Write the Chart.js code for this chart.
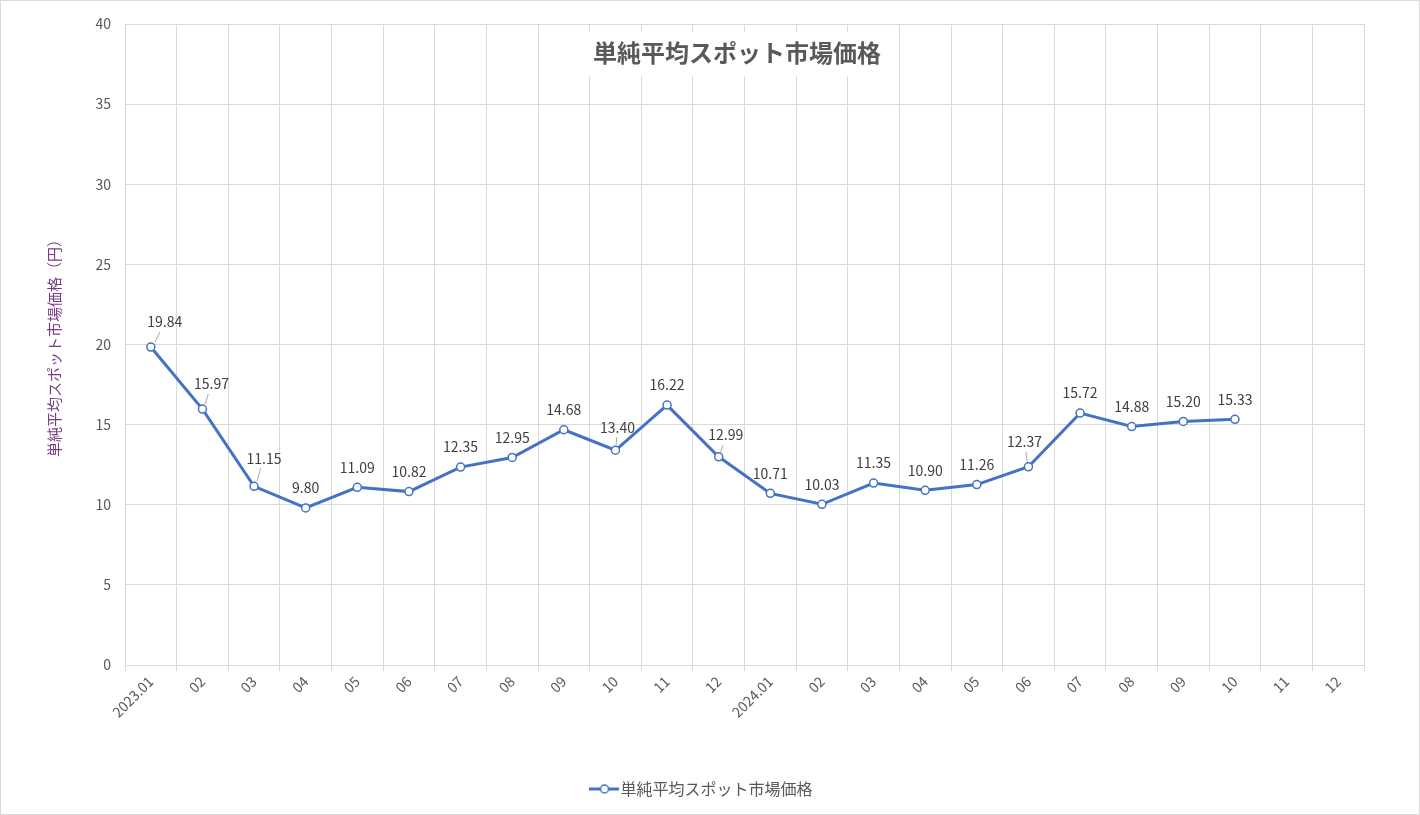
<!DOCTYPE html>
<html lang="ja">
<head>
    <meta charset="UTF-8">
    <title>単純平均スポット市場価格</title>
    <script src="https://cdn.jsdelivr.net/npm/chart.js"></script>
    <style>
        html, body { margin: 0; padding: 0; background: #fff; }
        .wrap { width: 1420px; height: 815px; position: relative; }
    </style>
</head>
<body>
    <div class="wrap">
        <canvas id="priceChart" width="1420" height="815"></canvas>
    </div>

    <script>
        const seriesName = '単純平均スポット市場価格';
        const axisTitle = '単純平均スポット市場価格（円）';
        const months = ['2023.01', '02', '03', '04', '05', '06', '07', '08', '09', '10', '11', '12',
                        '2024.01', '02', '03', '04', '05', '06', '07', '08', '09', '10', '11', '12'];
        const prices = [19.84, 15.97, 11.15, 9.80, 11.09, 10.82, 12.35, 12.95, 14.68, 13.40, 16.22, 12.99,
                        10.71, 10.03, 11.35, 10.90, 11.26, 12.37, 15.72, 14.88, 15.20, 15.33, null, null];

        // label offsets (px) from the point, [dx, dy, leaderLine]
        const labelShift = {
            0: [14, -25, true], 1: [9, -25, true], 2: [10, -28, true],
            9: [2, -23, true], 11: [7, -22, true], 17: [-4, -25, true]
        };

        const blue = '#4472C4';
        const font = "'Noto Sans CJK JP', 'Noto Sans', sans-serif";

        // legend marker: line with hollow circle
        const marker = document.createElement('canvas');
        marker.width = 30; marker.height = 12;
        const mctx = marker.getContext('2d');
        mctx.strokeStyle = blue; mctx.lineWidth = 3;
        mctx.beginPath(); mctx.moveTo(0, 6); mctx.lineTo(30, 6); mctx.stroke();
        mctx.fillStyle = '#fff'; mctx.lineWidth = 1.5;
        mctx.beginPath(); mctx.arc(15, 6, 4, 0, Math.PI * 2); mctx.fill(); mctx.stroke();

        const frameAndTitle = {
            id: 'frameAndTitle',
            afterDraw(chart) {
                const ctx = chart.ctx;
                ctx.save();
                ctx.strokeStyle = '#d9d9d9';
                ctx.lineWidth = 1;
                ctx.strokeRect(0.5, 0.5, chart.width - 1, chart.height - 1);
                ctx.fillStyle = '#fff';
                ctx.fillRect(560, 32, 335, 44);
                ctx.fillStyle = '#595959';
                ctx.font = 'bold 24px ' + font;
                ctx.textAlign = 'center';
                ctx.textBaseline = 'middle';
                ctx.fillText(seriesName, 737, 53);
                ctx.restore();
            }
        };

        const valueLabels = {
            id: 'valueLabels',
            afterDatasetsDraw(chart) {
                const ctx = chart.ctx;
                const meta = chart.getDatasetMeta(0);
                ctx.save();
                ctx.font = '14px ' + font;
                ctx.fillStyle = '#404040';
                ctx.textAlign = 'center';
                ctx.textBaseline = 'middle';
                meta.data.forEach((pt, i) => {
                    const v = prices[i];
                    if (v === null) return;
                    const s = labelShift[i] || [0, -20, false];
                    const tx = pt.x + s[0], ty = pt.y + s[1];
                    if (s[2]) {
                        ctx.strokeStyle = '#a6a6a6';
                        ctx.lineWidth = 1;
                        ctx.beginPath();
                        ctx.moveTo(pt.x + s[0] * 0.3, pt.y - 5);
                        ctx.lineTo(tx - s[0] * 0.35, ty + 10);
                        ctx.stroke();
                    }
                    ctx.fillText(v.toFixed(2), tx, ty);
                });
                ctx.restore();
            }
        };

        new Chart(document.getElementById('priceChart'), {
            type: 'line',
            data: {
                labels: months,
                datasets: [{
                    label: seriesName,
                    data: prices,
                    borderColor: blue,
                    borderWidth: 3,
                    pointRadius: 4,
                    pointStyle: 'circle',
                    pointBackgroundColor: '#fff',
                    pointBorderColor: blue,
                    pointBorderWidth: 1.5,
                    tension: 0
                }]
            },
            options: {
                responsive: false,
                animation: false,
                layout: { padding: { top: 24, right: 56, left: 45, bottom: 8 } },
                plugins: {
                    tooltip: { enabled: false },
                    title: { display: false },
                    legend: {
                        position: 'bottom',
                        labels: {
                            usePointStyle: true,
                            pointStyle: marker,
                            color: '#595959',
                            font: { family: font, size: 16 },
                            padding: 10
                        }
                    }
                },
                scales: {
                    x: {
                        offset: true,
                        grid: { offset: true, color: '#d9d9d9', tickLength: 6, drawTicks: true },
                        border: { color: '#d9d9d9' },
                        ticks: {
                            color: '#595959',
                            font: { family: font, size: 14 },
                            minRotation: 45,
                            maxRotation: 45,
                            autoSkip: false,
                            padding: 2
                        },
                        afterFit(scale) { scale.height = 106; }
                    },
                    y: {
                        min: 0,
                        max: 40,
                        ticks: {
                            stepSize: 5,
                            color: '#595959',
                            font: { family: font, size: 14 },
                            padding: 14
                        },
                        grid: { color: '#d9d9d9', drawTicks: false },
                        border: { color: '#d9d9d9' },
                        title: {
                            display: true,
                            text: axisTitle,
                            color: '#7a3d85',
                            font: { family: font, size: 15 },
                            padding: 0
                        },
                        afterFit(scale) { scale.width = 80; }
                    }
                }
            },
            plugins: [valueLabels, frameAndTitle]
        });
    </script>
</body>
</html>
